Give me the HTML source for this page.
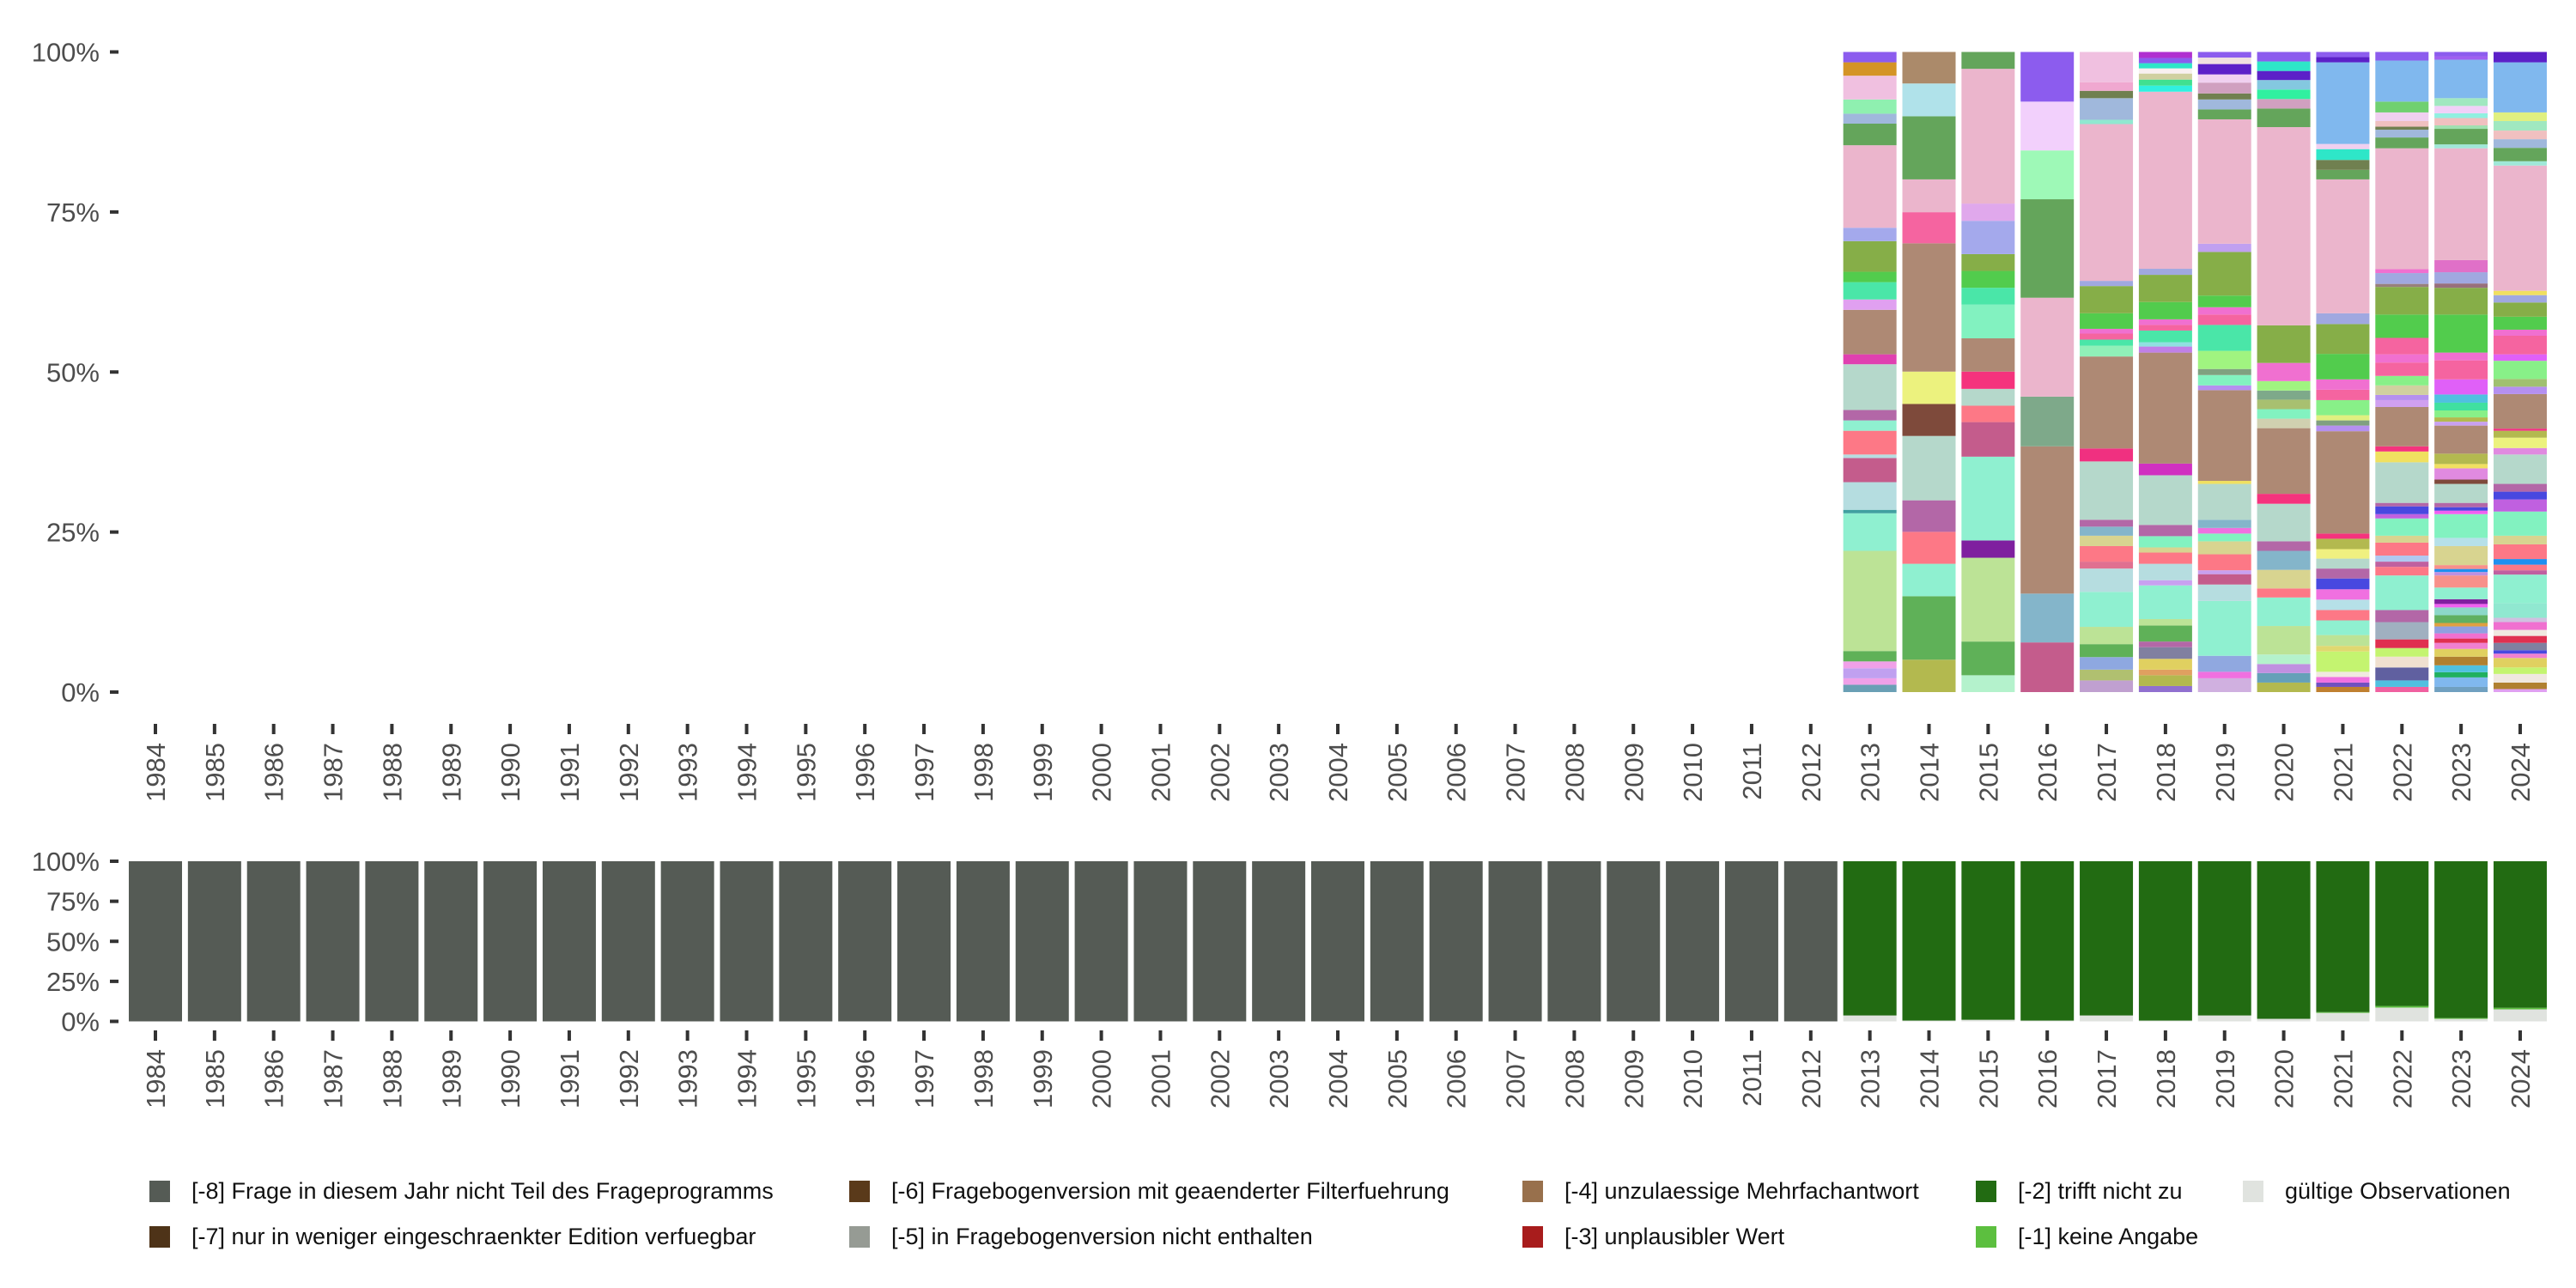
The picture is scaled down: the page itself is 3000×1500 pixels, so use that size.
<!DOCTYPE html>
<html><head><meta charset="utf-8">
<style>
html,body{margin:0;padding:0;background:#fff;}
svg{display:block;font-family:"Liberation Sans",sans-serif;}
</style></head>
<body>
<svg id="chart" width="3000" height="1500" viewBox="0 0 3000 1500" xmlns="http://www.w3.org/2000/svg">
<g id="top"></g>
<g id="bottom"></g>
<g id="legend"></g>
</svg>
<script>
const years = [1984,1985,1986,1987,1988,1989,1990,1991,1992,1993,1994,1995,1996,1997,1998,1999,2000,2001,2002,2003,2004,2005,2006,2007,2008,2009,2010,2011,2012,2013,2014,2015,2016,2017,2018,2019,2020,2021,2022,2023,2024];
const yTicks = [0,25,50,75,100];
const yTickLabels = ["0%","25%","50%","75%","100%"];

// top panel: counts per category (normalized to 100% per year)
const top2013 = [17,15,23,16,24,232,87,8,64,56,8,55,24,24,106,23,103,24,40,24,71,31,191,50,23,33,55,31,24];
const col2013 = ["#6a9fb5","#f0a0e8","#c0a0f0","#f0a0e8","#5fb158","#bce396","#8ff0d0","#41a0a0","#b5dde0","#c45c8c","#b6dde0","#fd7886","#8ff0d0","#b367a7","#b5d8cb","#e040b0","#ae8974","#e0a0f0","#4ae6a8","#52cc4d","#86ae48","#a4a9ec","#ebb5cc","#64a55b","#a0b8dc","#8ff0b0","#f0c0e0","#d49426","#8c5cee"];
const top2014 = [75,147,75,74,73,149,74,75,297,72,76,146,76,73];
const col2014 = ["#b3b94f","#5fb158","#8ff0d0","#fd7886","#b367a7","#b5d8cb","#7e4a3b","#ecf27e","#ae8974","#f564a0","#ebb5cc","#64a55b","#b0e2ea","#ab8a6a"];
const top2015 = [39,78,194,40,194,80,38,39,40,77,78,39,39,39,77,40,312,39];
const col2015 = ["#b4f2cc","#5fb158","#bce396","#7f1f9f","#8ff0d0","#c45c8c","#fd7886","#b5d8cb","#f5337d","#ae8974","#82f2c0","#4ae6a8","#52cc4d","#86ae48","#a4a9ec","#e0a8ec","#ebb5cc","#64a55b"];
const top2016 = [115,113,341,115,229,228,113,113,115];
const col2016 = ["#c45c8c","#84b5ca","#ae8974","#7ea98a","#ebb5cc","#64a55b","#9ef9b7","#f2d0fc","#8c5cee"];
const top2017 = [27,25,29,30,40,81,54,16,36,24,21,16,135,30,213,25,14,14,11,36,63,12,363,10,50,17,20,70];
const col2017 = ["#c0a0d0","#b0c070","#8ea8e0","#5fb158","#bce396","#8ff0d0","#b6dde0","#e07090","#fd7886","#d8d490","#84b5ca","#b367a7","#b5d8cb","#f03080","#ae8974","#90f0b8","#4ae6a8","#f564a0","#f070d0","#52cc4d","#86ae48","#a0a8e0","#ebb5cc","#90e8d0","#a0b8dc","#708050","#f0a8d0","#f0c0e0"];
const top2018 = [14,25,13,25,27,13,37,15,78,12,38,26,12,26,26,115,27,257,14,10,27,13,13,40,63,14,410,14,14,14,12,12,12,14];
const col2018 = ["#9070d0","#b3b94f","#e0a060","#e0d060","#8080a0","#b367a7","#5fb158","#bce396","#8ff0d0","#c8a0f0","#b6dde0","#fd7886","#d8d490","#82f2c0","#b367a7","#b5d8cb","#d030c0","#ae8974","#c080e8","#90e0e0","#4ae6a8","#f564a0","#f070d0","#52cc4d","#86ae48","#a0a8e0","#ebb5cc","#30f0e0","#40e090","#d0d0a0","#f8f0f0","#2ee6c8","#8c5cee","#b030d0"];
const top2019 = [32,15,37,127,38,24,9,37,30,18,13,19,83,7,210,11,24,14,42,60,24,17,27,101,19,288,23,23,14,25,19,24,15,13];
const col2019 = ["#d0b0e0","#f070e0","#90a8e0","#8ff0d0","#b6dde0","#c45c8c","#c8a0f0","#fd7886","#d8d490","#82f2c0","#f070e0","#84b5ca","#b5d8cb","#f0e060","#ae8974","#b590f0","#82f2c0","#80a080","#a0f480","#4ae6a8","#f564a0","#f070d0","#52cc4d","#86ae48","#c0a0f0","#ebb5cc","#64a55b","#a0b8dc","#708050","#d0a0c0","#f0d0f0","#5c20c8","#f0e0e0","#8c5cee"];
const top2020 = [22,22,21,22,66,66,21,43,44,22,87,23,152,22,22,22,21,22,42,87,459,43,22,22,22,21,22,22];
const col2020 = ["#b3b94f","#65a0b8","#c090e0","#b4f2cc","#bce396","#8ff0d0","#fd7886","#d8d490","#84b5ca","#b367a7","#b5d8cb","#f5337d","#ae8974","#d0d0b0","#82f2c0","#a8c070","#7ea98a","#a0f480","#f070d0","#86ae48","#ebb5cc","#64a55b","#d0a0c0","#30f0a0","#84c8e0","#5c20c8","#2ee6c8","#8c5cee"];
const top2021 = [12,10,13,12,47,13,25,34,24,24,24,25,23,23,22,24,12,237,13,12,12,35,24,24,59,69,25,310,22,23,25,12,189,12,12];
const col2021 = ["#c08030","#7050c0","#f070e0","#f0e8e0","#c4f470","#e0d870","#bce396","#8ff0d0","#fd7886","#b6e0e8","#f070e0","#4848e0","#b367a7","#b5d8cb","#f0f080","#b3b94f","#f5337d","#ae8974","#b590f0","#80a080","#e0f080","#88f088","#f564a0","#f070d0","#52cc4d","#86ae48","#a0a8e0","#ebb5cc","#64a55b","#708050","#2ee6c8","#f0d0f0","#80b8ee","#5c20c8","#8c5cee"];
const top2022 = [12,15,30,25,20,20,40,28,80,20,12,14,30,16,40,10,18,8,94,25,12,91,16,12,22,22,31,19,38,54,64,7,25,9,280,25,18,7,13,20,25,95,20];
const col2022 = ["#f060a0","#50c0e0","#6060a0","#f0e0d0","#c4f470","#e03050","#a0b0c0","#b367a7","#8ff0d0","#fd7886","#c060a0","#b0c8f0","#fd7886","#d8d490","#82f2c0","#c060e0","#4848e0","#b367a7","#b5d8cb","#f0e060","#f5337d","#ae8974","#d0a0f0","#b590f0","#d0d0a0","#88f088","#f564a0","#f070d0","#f564a0","#52cc4d","#86ae48","#98807c","#a0a8e0","#f070d0","#ebb5cc","#64a55b","#a0b8dc","#708050","#f0c0c0","#f0d0f0","#70d070","#80b8ee","#8c5cee"];
const top2023 = [12,22,12,16,20,18,14,10,12,16,8,18,18,8,11,27,28,8,7,9,44,19,55,8,8,10,44,10,26,10,24,65,9,10,16,18,19,35,44,18,88,62,10,26,28,259,9,36,8,17,11,17,18,89,8,10];
const col2023 = ["#70a0c0","#80b8ee","#20b060","#50c0e0","#b08030","#e0d060","#f080d0","#e03050","#f070d0","#90a0e0","#e0a040","#60b060","#8cd8c8","#f060f0","#8020a0","#90f0d0","#f8908a","#c090e0","#2090f0","#f8908a","#d8d490","#b6e0e8","#82f2c0","#f060f0","#4848e0","#b367a7","#b5d8cb","#7e4a3b","#e08ae0","#f0e060","#b3b94f","#ae8974","#c8a0f0","#b3b94f","#88f088","#40e0a0","#50c0e0","#e060f8","#f564a0","#f070d0","#52cc4d","#86ae48","#98707c","#a0a8e0","#e070c8","#ebb5cc","#a0e8d8","#64a55b","#a0e0b0","#f0c0c0","#90f0e0","#f0d0f8","#a0e8c0","#80b8ee","#a060f0","#8c5cee"];
const top2024 = [7,15,20,15,22,10,8,17,16,14,18,10,34,66,10,13,13,34,20,56,28,18,18,68,15,24,16,5,80,17,18,42,15,43,14,30,33,17,10,290,10,31,20,20,22,20,116,24];
const col2024 = ["#e0a0f0","#b08030","#f0e8e0","#c4f470","#e0d060","#f080d0","#4848e0","#8080a0","#e03050","#f0e8e0","#f070d0","#d0c0e0","#90e8d0","#8ff0d0","#c060a0","#fd7886","#2090f0","#fd7886","#d8d490","#82f2c0","#c060e0","#4848e0","#b367a7","#b5d8cb","#e08ae0","#ecf27e","#b3b94f","#f03080","#ae8974","#b590f0","#a0c070","#88f088","#e060f8","#f564a0","#f070d0","#52cc4d","#86ae48","#a0a8e0","#f0e060","#ebb5cc","#a0e8d8","#64a55b","#a0b8dc","#f0c0c0","#a0e8c0","#e0f080","#80b8ee","#5c20c8"];
const topYears = [2013,2014,2015,2016,2017,2018,2019,2020,2021,2022,2023,2024];
const topCounts = [top2013,top2014,top2015,top2016,top2017,top2018,top2019,top2020,top2021,top2022,top2023,top2024];
const topColors = [col2013,col2014,col2015,col2016,col2017,col2018,col2019,col2020,col2021,col2022,col2023,col2024];

// bottom panel: percent per category
const bottomNotInProgram = [100,100,100,100,100,100,100,100,100,100,100,100,100,100,100,100,100,100,100,100,100,100,100,100,100,100,100,100,100,0,0,0,0,0,0,0,0,0,0,0,0];
const bottomValid =        [0,0,0,0,0,0,0,0,0,0,0,0,0,0,0,0,0,0,0,0,0,0,0,0,0,0,0,0,0,3.7,0.5,1,0.5,3.7,0.5,3.7,1.6,5.3,8.6,1.6,7.5];
const bottomNoAnswer =     [0,0,0,0,0,0,0,0,0,0,0,0,0,0,0,0,0,0,0,0,0,0,0,0,0,0,0,0,0,0,0,0,0,0,0,0,0,0.5,1,0.5,1];

const legendLabels = ["[-8] Frage in diesem Jahr nicht Teil des Frageprogramms","[-7] nur in weniger eingeschraenkter Edition verfuegbar","[-6] Fragebogenversion mit geaenderter Filterfuehrung","[-5] in Fragebogenversion nicht enthalten","[-4] unzulaessige Mehrfachantwort","[-3] unplausibler Wert","[-2] trifft nicht zu","[-1] keine Angabe","gültige Observationen"];
const legendColors = ["#555b55","#4e3318","#5a3a1a","#969b94","#98704c","#a81c1c","#226b12","#5cbf3f","#e0e3df"];

const NS = "http://www.w3.org/2000/svg";
function mk(tag, attrs, parent){ const e=document.createElementNS(NS,tag); for(const k in attrs) e.setAttribute(k,attrs[k]); parent.appendChild(e); return e; }
function xCenter(year){ return 181 + (year-1984)*68.85; }
const BW = 62;
function yTop(p){ return 806 - p*7.455; }
function yBot(p){ return 1189.5 - p*1.865; }

const gTop = document.getElementById('top');
const gBot = document.getElementById('bottom');
const gLeg = document.getElementById('legend');

function axes(g, yf, tickY0, labelY0, prefix){
  yTicks.forEach((t,i)=>{
    const y=yf(t);
    const tk=mk('rect',{x:128,y:y-2,width:10,height:4,fill:'#333'},g);
    
    
    const tx=mk('text',{x:116,y:y+11,'text-anchor':'end','font-size':31,fill:'#4d4d4d'},g);
    tx.textContent=yTickLabels[i];
    
    
  });
  years.forEach(yr=>{
    const x=xCenter(yr);
    const tk=mk('rect',{x:x-2,y:tickY0,width:4,height:12,fill:'#333'},g);
    
    
    const tx=mk('text',{x:0,y:0,'text-anchor':'end','font-size':31,fill:'#4d4d4d',transform:`translate(${x+11},${labelY0}) rotate(-90)`},g);
    tx.textContent=String(yr);
    
    
  });
}

// top panel bars
topYears.forEach((yr,j)=>{
  const counts=topCounts[j], cols=topColors[j];
  const total=counts.reduce((a,b)=>a+b,0);
  let cum=0;
  counts.forEach((c,k)=>{
    const p0=cum/total*100, p1=(cum+c)/total*100; cum+=c;
    const r=mk('rect',{x:xCenter(yr)-BW/2,y:yTop(p1),width:BW,height:yTop(p0)-yTop(p1),fill:cols[k]},gTop);
    
    
  });
});
axes(gTop, yTop, 843, 865, 'top');

// bottom panel bars
years.forEach((yr,i)=>{
  const stack=[[bottomValid[i],'#e0e3df'],[bottomNoAnswer[i],'#5cbf3f'],[bottomNotInProgram[i],'#555b55']];
  const rest=100-bottomValid[i]-bottomNoAnswer[i]-bottomNotInProgram[i];
  stack.push([rest,'#226b12']);
  let cum=0;
  stack.forEach(([v,c])=>{
    if(v<=0) return;
    const r=mk('rect',{x:xCenter(yr)-BW/2,y:yBot(cum+v),width:BW,height:yBot(cum)-yBot(cum+v),fill:c},gBot);
    
    
    cum+=v;
  });
});
axes(gBot, yBot, 1200, 1222, 'bottom');

// legend
const legX=[174,174,989,989,1773,1773,2301,2301,2612];
const legY=[1375,1428,1375,1428,1375,1428,1375,1428,1375];
legendLabels.forEach((lab,i)=>{
  const k=mk('rect',{x:legX[i],y:legY[i],width:24,height:25,fill:legendColors[i]},gLeg);
  
  
  const t=mk('text',{x:legX[i]+49,y:legY[i]+21,'font-size':27,fill:'#111'},gLeg);
  t.textContent=lab;
  
  
});
</script>
</body></html>
